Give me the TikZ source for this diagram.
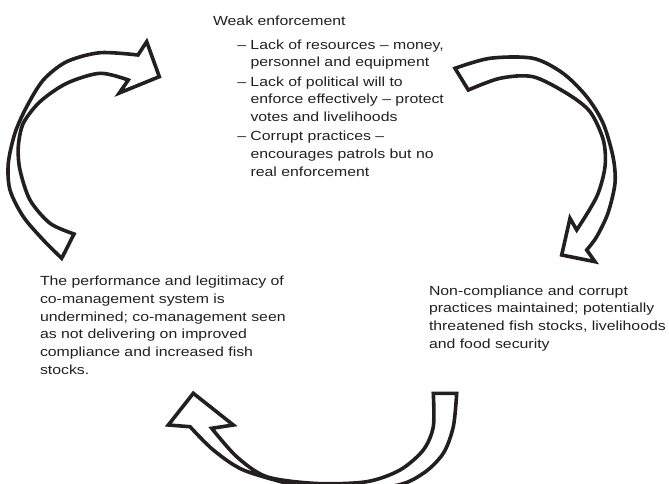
\documentclass[tikz,border=0pt]{standalone}
\usepackage{fontspec}
\setmainfont{Liberation Sans}[FakeStretch=1.2]
\definecolor{ink}{RGB}{35,31,32}
\newcommand\txtlines[1]{\vtop{\halign{##\hfil\cr#1\crcr}}}
\newcommand\dashlines[1]{\vtop{\halign{##\hfil&##\hfil\cr#1\crcr}}}
\tikzset{
  txt/.style={inner sep=0pt, outer sep=0pt, text=ink, anchor=base west,
    font=\fontsize{13.2}{17.7}\selectfont},
  cyc/.style={draw=ink, fill=white, line width=3.6pt, line join=miter, miter limit=6}
}
\begin{document}
\begin{tikzpicture}[x=1pt,y=-1pt]
\useasboundingbox (0,0) rectangle (669,484);
\clip (0,0) rectangle (669,484);

% texts
\node[txt] (weak) at (213,25.7) {\txtlines{Weak enforcement}};
\node[txt] (causes) at (237.3,49.3) {\dashlines{%
–\ &Lack of resources – money,\cr
&personnel and equipment\cr
\noalign{\vskip1.5pt}
–\ &Lack of political will to\cr
&enforce effectively – protect\cr
&votes and livelihoods\cr
\noalign{\vskip1.5pt}
–\ &Corrupt practices –\cr
&encourages patrols but no\cr
&real enforcement}};
\node[txt] (legit) at (40,285.7) {\txtlines{%
The performance and legitimacy of\cr
co-management system is\cr
undermined; co-management seen\cr
as not delivering on improved\cr
compliance and increased fish\cr
stocks.}};
\node[txt] (noncomp) at (429,295) {\txtlines{%
Non-compliance and corrupt\cr
practices maintained; potentially\cr
threatened fish stocks, livelihoods\cr
and food security}};

% arrow 1 (left, pointing up-right)
\filldraw[cyc] (146.7,41.7) -- (159.3,76.7) -- (119.3,93) -- (128.3,80)
 -- plot[smooth] coordinates {(128.3,80) (100,73.3) (66.7,83.3) (40,101.7) (23.3,123.3) (18.3,146.7) (20,170) (30,200) (50,223.3) (74,234)}
 -- (61.7,258.3)
 -- plot[smooth] coordinates {(61.7,258.3) (43.3,240) (23.3,216.7) (10,190) (8.3,163.3) (15,133) (26.7,106.7) (43.3,80) (66.7,61.7) (100,52.7) (138,55)}
 -- cycle;

% arrow 2 (right, pointing down)
\filldraw[cyc] (570,218.3) -- (561.7,255) -- (595,261.7) -- (586.7,250)
 -- plot[smooth] coordinates {(586.7,250) (596.7,236.7) (608,213) (615,183) (613,156.7) (603,123) (586.7,96.7) (563,73.3) (533,58.3) (490,58.3) (455,68.3)}
 -- (468.3,90)
 -- plot[smooth] coordinates {(468.3,90) (500,78.3) (533,76.7) (566.7,93.3) (590,111.7) (603.3,140) (605,166.7) (596.7,196.7) (576.7,230)}
 -- cycle;

% arrow 3 (bottom, pointing up-left)
\filldraw[cyc] (193.3,393.3) -- (233.3,425) -- (211.7,428.3)
 -- plot[smooth] coordinates {(211.7,428.3) (236.7,456.7) (266.7,476.7) (316.7,483.5) (366.7,481.7) (400,470) (423.3,450) (433.3,426.7) (433.3,393.3)}
 -- (456.7,393.3)
 -- plot[smooth] coordinates {(456.7,393.3) (453.3,426.7) (443.3,453.3) (423.3,473.3) (393.3,486) (317,490) (293.3,485) (243.3,470) (213.3,450) (190,426.7)}
 -- (168.3,425) -- cycle;
\end{tikzpicture}
\end{document}
